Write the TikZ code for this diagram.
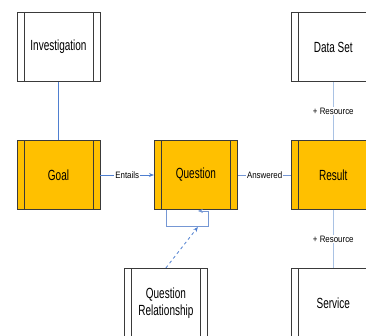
\documentclass[tikz,border=0pt]{standalone}
\usepackage{fontspec}
\setmainfont{Liberation Sans}
\newfontfamily\boxfont{Liberation Sans}[FakeStretch=0.68]
\newfontfamily\lblfont{Liberation Sans}[FakeStretch=0.85]
\usetikzlibrary{positioning,arrows.meta}

\definecolor{boxorange}{HTML}{FFC000}
\definecolor{boxedge}{HTML}{3A3A3A}
\definecolor{relblue}{HTML}{4F7FD0}
\definecolor{midblue}{HTML}{7597D4}
\definecolor{resblue}{HTML}{A9C2E4}

\tikzset{
  entity/.style={draw=boxedge, line width=0.9pt, fill=white,
    minimum width=83pt, minimum height=69pt, align=center,
    font=\boxfont\fontsize{14.7}{17}\selectfont,
    path picture={
      \draw[boxedge, line width=0.8pt]
        ([xshift=7pt]path picture bounding box.north west) --
        ([xshift=7pt]path picture bounding box.south west)
        ([xshift=-7pt]path picture bounding box.north east) --
        ([xshift=-7pt]path picture bounding box.south east);
    }},
  core/.style={entity, fill=boxorange},
  lbl/.style={fill=white, inner sep=1pt,
    font=\lblfont\fontsize{9.3}{11}\selectfont},
  rel/.style={draw=relblue, line width=0.8pt},
  tip/.style={-{Stealth[length=5pt,width=4pt]}},
}

\begin{document}
\begin{tikzpicture}[x=1pt, y=1pt, node distance=58pt and 53.5pt]
  \useasboundingbox (0,0) rectangle (366,335);
  \clip (0,0) rectangle (366,335);

  % main row
  \node[core] (goal) at (58.5,160) {Goal};
  \node[core, right=of goal] (ques) {Question};
  \node[core, right=of ques] (res) {Result};

  \node[entity, above=of goal] (inv) {Investigation};
  \node[entity, above=of res] (data) {Data Set};
  \node[entity, below=of res] (serv) {Service};
  \node[entity, below=of ques, xshift=-30pt] (qrel) {Question\\Relationship};

  \coordinate (qloop) at ([xshift=2pt, yshift=-17pt]ques.south);

  % connectors
  \draw[rel] (inv) -- (goal);
  \draw[rel, tip] (goal) -- node[lbl] {Entails} (ques);
  \draw[rel, draw=midblue] (ques) -- node[lbl] {Answered} (res);
  \draw[rel, draw=resblue] (data) -- node[lbl] {+ Resource} (res);
  \draw[rel, draw=resblue] (res) -- node[lbl] {+ Resource} (serv);

  % self relation
  \draw[rel, draw=midblue, tip] ([xshift=-30pt]ques.south) -- ++(0,-16)
    -- ++(42,0) -- ++(0,15) -- ++(-10,0);
  \draw[rel, dashed, tip] (qrel.north) -- (qloop);
\end{tikzpicture}
\end{document}
